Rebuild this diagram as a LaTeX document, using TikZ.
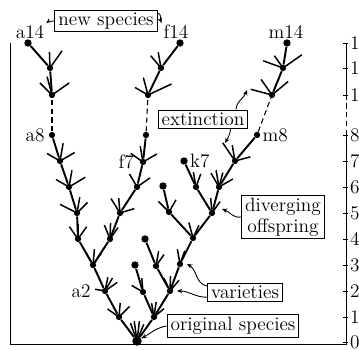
\documentclass[tikz,border=0pt]{standalone}
\usetikzlibrary{arrows.meta,positioning}
\newcommand{\twigs}[2]{%
	\foreach \ang/\len in {#2}{\draw[twig] (#1.center) -- ++({\len*cos(\ang)},{-\len*sin(\ang)});}}

\begin{document}
\begin{tikzpicture}[x=0.02cm,y=-0.02cm,
	bud/.style={circle,fill,inner sep=0pt,minimum size=3.6pt},
	leaf/.style={circle,fill,inner sep=0pt,minimum size=4.2pt},
	stem/.style={line width=1.1pt},
	gap/.style={line width=0.6pt,densely dashed},
	twig/.style={line width=0.85pt},
	lbl/.style={font=\fontsize{11}{12}\selectfont,inner sep=1pt},
	tag/.style={draw,line width=0.5pt,font=\fontsize{11}{12}\selectfont,inner xsep=2pt,inner ysep=1.5pt,align=center},
	callout/.style={line width=0.5pt,-{Stealth[length=3pt,width=2.5pt]}},
	rule/.style={line width=0.5pt}]
	\useasboundingbox (0,0) rectangle (359,350);

	% Frame and time scale
	\draw[rule] (10,43) -- (10,344) -- (346,344) -- (346,135);
	\draw[rule,densely dashed] (346,135) -- (346,95);
	\draw[rule] (346,95) -- (346,43);
	\foreach \lv/\yy in {0/342,1/317,2/291,3/265,4/239,5/213,6/187,7/161,8/135,12/95,13/68,14/43}
		\draw[rule] (343,\yy) -- (348,\yy) node[lbl,right=0pt] {\lv};

	% Original species and its descendants, level by level
	\node[leaf,minimum size=5.4pt] (r) at (137,341) {};
	\node[bud] (n1a) at (119,317) {};
	\node[bud] (n1b) at (154,317) {};
	\node[bud] (a2) at (105,291) {};
	\node[bud] (b2) at (143,292) {};
	\node[bud] (c2) at (170,291) {};
	\node[bud] (a3) at (93,265) {};
	\node[leaf] (b3t) at (135,265) {};
	\node[bud] (b3) at (156,266) {};
	\node[bud] (c3) at (180,264) {};
	\node[bud] (a4) at (78,239) {};
	\node[bud] (b4) at (110,239) {};
	\node[leaf] (b4t) at (145,239) {};
	\node[bud] (c4) at (193,238) {};
	\node[bud] (a5) at (77,213) {};
	\node[bud] (b5) at (120,213) {};
	\node[bud] (c5) at (169,212) {};
	\node[bud] (d5) at (212,213) {};
	\node[bud] (a6) at (69,187) {};
	\node[bud] (b6) at (137,187) {};
	\node[leaf] (c6t) at (163,186) {};
	\node[bud] (d6) at (196,187) {};
	\node[bud] (e6) at (219,187) {};
	\node[bud] (a7) at (60,161) {};
	\node[bud] (f7) at (143,162) {};
	\node[leaf] (k7) at (184,161) {};
	\node[bud] (m7) at (235,161) {};
	\node[bud] (a8) at (52,135) {};
	\node[bud] (f8) at (146,135) {};
	\node[bud] (m8) at (257,135) {};
	\node[bud] (a12) at (52,95) {};
	\node[bud] (f12) at (148,95) {};
	\node[bud] (m12) at (272,95) {};
	\node[bud] (a13) at (50,68) {};
	\node[bud] (f13) at (161,68) {};
	\node[bud] (m13) at (283,68) {};
	\node[leaf] (a14) at (28,43) {};
	\node[leaf] (f14) at (180,43) {};
	\node[leaf] (m14) at (287,43) {};

	% Lines of descent
	\foreach \p/\c in {r/n1a,r/n1b,n1a/a2,n1b/b2,n1b/c2,a2/a3,b2/b3t,c2/b3,c2/c3,
		a3/a4,a3/b4,b3/b4t,c3/c4,a4/a5,b4/b5,c4/c5,c4/d5,a5/a6,b5/b6,c5/c6t,
		d5/d6,d5/e6,a6/a7,b6/f7,d6/k7,e6/m7,a7/a8,f7/f8,m7/m8,
		a12/a13,a13/a14,f12/f13,f13/f14,m12/m13,m13/m14}
		\draw[stem] (\p) -- (\c);
	\foreach \p/\c in {a8/a12,f8/f12,m8/m12}
		\draw[gap] (\p) -- (\c);

	% Short extinct varieties
	\twigs{r}{110/19,98/20,83/20,68/18}
	\twigs{n1a}{145/14,85/14,45/15}
	\twigs{n1b}{100/14,82/15,40/13}
	\twigs{a2}{170/10,78/14,60/15,35/15}
	\twigs{b2}{150/13,95/14}
	\twigs{c2}{115/14,88/15,50/14}
	\twigs{a3}{120/15,85/16,55/14}
	\twigs{b3}{80/15,55/14}
	\twigs{c3}{100/15,70/14}
	\twigs{a4}{125/15,90/15,55/15}
	\twigs{b4}{112/15,88/16,55/14}
	\twigs{c4}{105/16,65/14}
	\twigs{a5}{153/19,80/16,45/15}
	\twigs{b5}{122/17,95/15,17/15}
	\twigs{c5}{135/15,60/14}
	\twigs{d5}{95/15,55/14}
	\twigs{a6}{150/15,80/17,31/19}
	\twigs{b6}{120/15,35/16}
	\twigs{d6}{100/15,70/14}
	\twigs{e6}{120/16,100/17,75/15,30/16}
	\twigs{a7}{150/15,80/18,30/17}
	\twigs{f7}{145/15,100/16,30/16}
	\twigs{m7}{124/22,100/16,15/16}
	\twigs{a12}{135/17,105/19,35/21}
	\twigs{a13}{92/16,55/21}
	\twigs{f12}{150/15,105/18,25/26}
	\twigs{f13}{130/16,100/16}
	\twigs{m12}{165/22,125/19,40/21}
	\twigs{m13}{160/21,125/15,35/23}

	% Species labels
	\node[lbl] (la14) at (30,32) {a14};
	\node[lbl] (lf14) at (176,32) {f14};
	\node[lbl] (lm14) at (286,32) {m14};
	\node[lbl,left=1pt of a8] (la8) {a8};
	\node[lbl,left=2pt of f7] (lf7) {f7};
	\node[lbl,right=0pt of k7] (lk7) {k7};
	\node[lbl,right=0pt of m8] (lm8) {m8};
	\node[lbl,left=5pt of a2] (la2) {a2};

	% Boxed notes
	\node[tag] (newsp) at (106,21) {new species};
	\node[tag] (extinct) at (203,119) {extinction};
	\node[tag] (diverg) at (283,217) {diverging\\offspring};
	\node[tag] (variet) at (245,292) {varieties};
	\node[tag] (origsp) at (233,326) {original species};

	% Pointers
	\coordinate (xtop) at (247,90);
	\coordinate (xlow) at (225,143);
	\coordinate (xdiv) at (222,209);
	\draw[callout] (newsp.west) to[out=190,in=40] (la14.north east);
	\draw[callout] ([yshift=-2pt]newsp.north east) to[out=0,in=110] (lf14.north west);
	\draw[callout] ([xshift=-7pt]extinct.north east) to[out=85,in=-110] (xtop);
	\draw[callout] ([xshift=-10pt]extinct.south east) to[out=-95,in=60] (xlow);
	\draw[callout] (diverg.west) to[out=190,in=-20] (xdiv);
	\draw[callout] ([yshift=-2pt]variet.north west) to[out=170,in=-30] ([xshift=2pt]c3.east);
	\draw[callout] ([yshift=-3pt]variet.west) to[out=180,in=0] ([xshift=2pt]c2.east);
	\draw[callout] (origsp.west) to[out=190,in=30] (r);
\end{tikzpicture}
\end{document}
